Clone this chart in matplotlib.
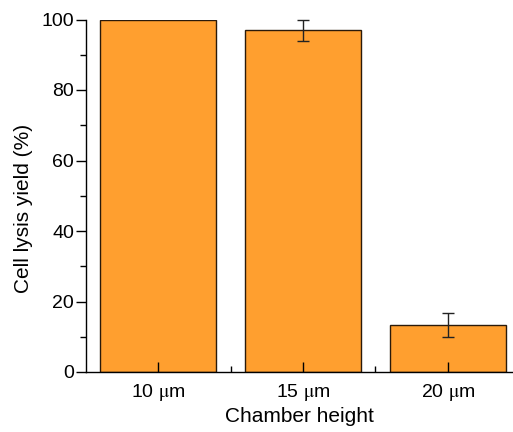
import numpy as np
import matplotlib.pyplot as plt
from matplotlib.ticker import MultipleLocator

plt.rcParams['font.family'] = ['Liberation Sans', 'DejaVu Sans']
plt.rcParams['mathtext.fontset'] = 'stix'

# data
categories = [r'10 $\mathrm{\mu}$m', r'15 $\mathrm{\mu}$m', r'20 $\mathrm{\mu}$m']
yield_pct = [100.0, 97.0, 13.3]
yield_err = [0.0, 3.0, 3.3]

fig = plt.figure(figsize=(5.13, 4.32), dpi=100)
ax = fig.add_axes([86 / 513, 1 - 372 / 432, 1 - 86 / 513, (372 - 19.5) / 432])

x = np.arange(len(categories))
ax.bar(x, yield_pct, width=0.8, color='#FF9F2F', edgecolor='#2a1a0a', linewidth=1.0)
ax.errorbar(x[1:], yield_pct[1:], yerr=yield_err[1:], fmt='none', ecolor='#222222',
            elinewidth=1.0, capsize=4, capthick=1.0, clip_on=False)

ax.set_xlim(-0.5, 2.45)
ax.set_ylim(0, 100)
ax.set_xticks(x)
ax.set_xticklabels(categories, fontsize=14)
ax.xaxis.set_minor_locator(plt.FixedLocator([0.5, 1.5]))
ax.yaxis.set_major_locator(MultipleLocator(20))
ax.yaxis.set_minor_locator(MultipleLocator(10))
ax.tick_params(axis='y', which='major', direction='out', length=7, width=1, labelsize=14, pad=1.5)
ax.tick_params(axis='y', which='minor', direction='out', length=4, width=1)
ax.tick_params(axis='x', which='major', direction='in', length=7, width=1, pad=7)
ax.tick_params(axis='x', which='minor', direction='in', length=4, width=1)

for s in ['top', 'right']:
    ax.spines[s].set_visible(False)
for s in ['left', 'bottom']:
    ax.spines[s].set_linewidth(1.0)

ax.set_xlabel('Chamber height', fontsize=15, labelpad=3)
ax.set_ylabel('Cell lysis yield (%)', fontsize=15)
ax.yaxis.set_label_coords(-0.124, 0.465)

plt.savefig('out.png', dpi=100)
